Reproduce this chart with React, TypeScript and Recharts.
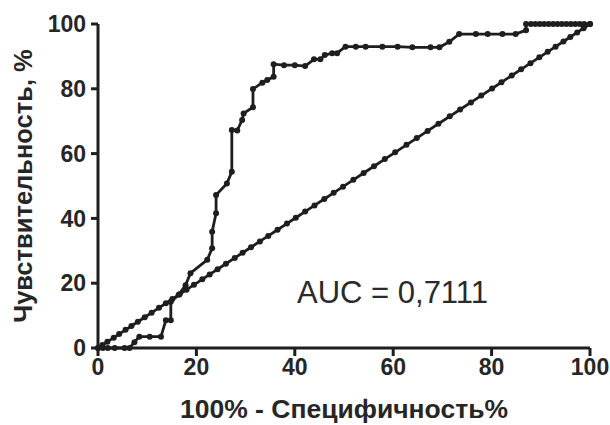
import React from "react";
import {
	ScatterChart,
	Scatter,
	XAxis,
	YAxis,
	Label,
} from "recharts";

// ROC curve: 100% - specificity (x) vs sensitivity (y)
const rocX = [
	0, 1, 2, 3.4, 5.4, 6.4, 7.4, 8.4, 10.5, 12.8, 13.8, 14.8, 14.8, 16.4, 17.8,
	18.8, 22.2, 23.2, 23.2, 24.0, 24.0, 26.2, 27.2, 27.2, 28.3, 29.3, 29.6, 31.5,
	31.5, 33.4, 34.4, 35.7, 35.7, 37.8, 40.0, 42.1, 43.9, 45.2, 46.1, 47.6, 48.6,
	50.3, 52.4, 54.4, 57.8, 60.9, 63.9, 67.6, 69.4, 71.4, 73.4, 76.8, 79.2, 82.2,
	84.9, 87.0, 87.0, 88.0, 88.9, 89.8, 90.7, 91.6, 92.5, 93.4, 94.3, 95.2, 96.1,
	97.0, 97.9, 98.8, 100,
];
const rocY = [
	0, 0, 0, 0, 0, 0, 1.8, 3.5, 3.5, 3.5, 8.6, 8.6, 14.3, 16.4, 19.4, 23.1, 27.2,
	30.8, 35.9, 41.6, 47.2, 50.8, 54.4, 67.3, 67.1, 70.4, 72.4, 74.3, 79.9, 81.9,
	82.7, 83.7, 87.6, 87.3, 87.3, 87.0, 89.1, 89.1, 90.4, 91.0, 91.0, 93.0, 93.0,
	93.0, 93.0, 93.0, 92.8, 92.8, 92.8, 94.5, 96.9, 96.9, 96.9, 96.9, 96.9, 98.1,
	100, 100, 100, 100, 100, 100, 100, 100, 100, 100, 100, 100, 100, 100, 100,
];

// reference (chance) line points
const diagonal = [
	0, 0.9, 1.9, 3.2, 4.3, 5.6, 6.8, 8.1, 9.5, 10.9, 12.4, 13.8, 15.1, 16.6, 18.0,
	19.5, 21.2, 22.7, 24.3, 26.0, 27.8, 29.4, 31.1, 32.9, 34.6, 36.5, 38.4, 40.2,
	42.1, 44.0, 46.0, 47.9, 49.8, 51.9, 54.0, 56.1, 58.3, 60.4, 62.7, 64.8, 67.0,
	69.2, 71.5, 73.6, 75.8, 77.9, 80.1, 82.0, 84.1, 86.0, 87.9, 89.7, 91.4, 93.0,
	94.6, 96.0, 97.4, 98.7, 100,
];

const ticks = [0, 20, 40, 60, 80, 100];
const aucText = "AUC = 0,7111";

const rocData = rocX.map((x, i) => ({ x, y: rocY[i] }));
const diagData = diagonal.map((v) => ({ x: v, y: v }));

const INK = "#1e1e1e";
const FONT = '"Liberation Sans", Arial, sans-serif';

const Dot = (props: any) => (
	<circle cx={props.cx} cy={props.cy} r={3} fill={INK} />
);

const tickStyle = {
	fontSize: 23,
	fontWeight: 700,
	fill: "#262626",
	fontFamily: FONT,
};

export default function App() {
	return (
		<div
			style={{
				position: "absolute",
				left: 0,
				top: 0,
				width: 610,
				height: 425,
				background: "#fff",
				fontFamily: FONT,
			}}
		>
			<ScatterChart
				width={610}
				height={425}
				margin={{ top: 24, right: 20, bottom: 0, left: 0 }}
			>
				<XAxis
					type="number"
					dataKey="x"
					domain={[0, 100]}
					ticks={ticks}
					height={77}
					tickSize={8}
					tickMargin={3}
					axisLine={{ stroke: INK, strokeWidth: 3 }}
					tickLine={{ stroke: INK, strokeWidth: 3 }}
					tick={tickStyle}
				>
					<Label
						value="100% - Специфичность%"
						position="insideBottom"
						offset={7}
						style={{
							fontSize: 26.5,
							fontWeight: 700,
							fill: "#262626",
							fontFamily: FONT,
						}}
					/>
				</XAxis>
				<YAxis
					type="number"
					dataKey="y"
					domain={[0, 100]}
					ticks={ticks}
					width={98}
					tickSize={7}
					tickMargin={5}
					axisLine={{ stroke: INK, strokeWidth: 3 }}
					tickLine={{ stroke: INK, strokeWidth: 3 }}
					tick={tickStyle}
				>
					<Label
						value="Чувствительность, %"
						angle={-90}
						position="center"
						dx={-26}
						style={{
							fontSize: 25.5,
							fontWeight: 700,
							fill: "#262626",
							fontFamily: FONT,
							textAnchor: "middle",
						}}
					/>
				</YAxis>
				<Scatter
					data={diagData}
					line={{ stroke: INK, strokeWidth: 2.8 }}
					shape={Dot}
					isAnimationActive={false}
				/>
				<Scatter
					data={rocData}
					line={{ stroke: INK, strokeWidth: 2.8 }}
					shape={Dot}
					isAnimationActive={false}
				/>
			</ScatterChart>
			<div
				style={{
					position: "absolute",
					left: 297,
					top: 275,
					fontSize: 31,
					lineHeight: "36px",
					color: "#2a2a2a",
					fontFamily: FONT,
					whiteSpace: "nowrap",
				}}
			>
				{aucText}
			</div>
		</div>
	);
}
